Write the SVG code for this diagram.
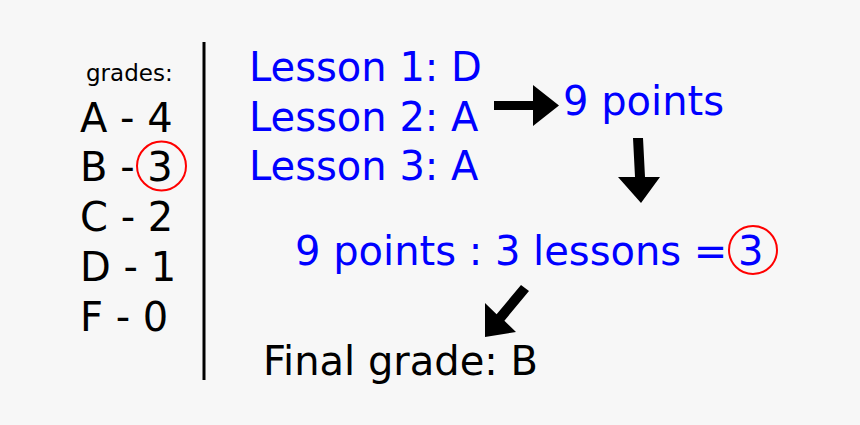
<svg xmlns="http://www.w3.org/2000/svg" width="860" height="425" viewBox="0 0 860 425">
<style>
text{font-family:"DejaVu Sans","Liberation Sans",sans-serif;font-size:40px}
.k{fill:#000}
.b{fill:#0000ff}
.ring{fill:none;stroke:#ff0000;stroke-width:2}
.arr{fill:#000}
</style>
<rect width="860" height="425" fill="#f7f7f7"/>
<g id="legend">
<text x="86" y="81" class="k" style="font-size:23px">grades:</text>
<text x="80" y="132" class="k">A - 4</text>
<text x="80" y="181" class="k">B - 3</text>
<text x="80" y="231" class="k">C - 2</text>
<text x="80" y="281" class="k">D - 1</text>
<text x="80" y="331" class="k">F - 0</text>
<circle cx="161.5" cy="166" r="24.5" class="ring"/>
</g>
<g id="divider"><line x1="204" y1="42" x2="204" y2="380" stroke="#000" stroke-width="3"/></g>
<g id="lessons">
<text x="249" y="81" class="b">Lesson 1: D</text>
<text x="249" y="131" class="b">Lesson 2: A</text>
<text x="249" y="180" class="b">Lesson 3: A</text>
</g>
<g id="points"><text x="563" y="115" class="b">9 points</text></g>
<g id="division">
<text x="295" y="265" class="b">9 points : 3 lessons =</text>
<text x="738" y="265" class="b">3</text>
<circle cx="753" cy="250" r="24" class="ring"/>
</g>
<g id="final"><text x="263" y="375" class="k">Final grade: B</text></g>
<g id="connectors">
<polygon class="arr" points="494,101 533,101 533,85 559,105.5 533,126 533,110 494,110"/>
<polygon class="arr" points="633,138 643,138 645,177 660,177 641,203 618,177 635,177"/>
<polygon class="arr" points="521,285 529,291 504.4,320.7 516,332 485,337 485,303 496.6,314.3"/>
</g>
</svg>
